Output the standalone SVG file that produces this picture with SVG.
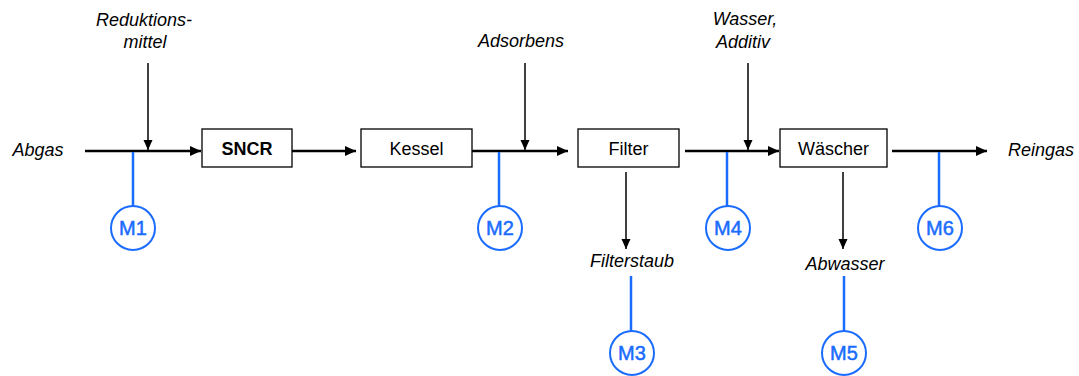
<svg xmlns="http://www.w3.org/2000/svg" width="1079" height="376" viewBox="0 0 1079 376">
<style>
.box{fill:#fff;stroke:#000;stroke-width:1.3}
.lbl{font-family:"Liberation Sans",Arial,sans-serif;font-size:18px;fill:#000;text-anchor:middle}
.it{font-family:"Liberation Sans",Arial,sans-serif;font-size:18px;font-style:italic;fill:#000;text-anchor:middle}
.main{stroke:#000;stroke-width:2.5;fill:none}
.thin{stroke:#000;stroke-width:1.5;fill:none}
.mline{stroke:#1a6cff;stroke-width:2.5;fill:none}
.mc{fill:#fff;stroke:#1a6cff;stroke-width:2}
.mt{font-family:"Liberation Sans",Arial,sans-serif;font-size:20px;fill:#1a6cff;stroke:#1a6cff;stroke-width:0.5;text-anchor:middle}
</style>
<defs>
<marker id="ah" markerUnits="userSpaceOnUse" markerWidth="12" markerHeight="12" viewBox="0 0 12 12" refX="11" refY="6" orient="auto">
<path d="M0,1 L11,6 L0,11 Z" fill="#000"/>
</marker>
<marker id="ahs" markerUnits="userSpaceOnUse" markerWidth="12" markerHeight="12" viewBox="0 0 12 12" refX="11" refY="6" orient="auto">
<path d="M1,1.5 L11,6 L1,10.5 Z" fill="#000"/>
</marker>
</defs>
<g id="connectors">
<line class="main" x1="85" y1="151" x2="201" y2="151" marker-end="url(#ah)"/>
<line class="main" x1="292" y1="151" x2="356" y2="151" marker-end="url(#ah)"/>
<line class="main" x1="472" y1="151" x2="568" y2="151" marker-end="url(#ah)"/>
<line class="main" x1="685" y1="151" x2="779" y2="151" marker-end="url(#ah)"/>
<line class="main" x1="892" y1="151" x2="987" y2="151" marker-end="url(#ah)"/>
<line class="thin" x1="148" y1="63" x2="148" y2="150" marker-end="url(#ahs)"/>
<line class="thin" x1="525" y1="63" x2="525" y2="150" marker-end="url(#ahs)"/>
<line class="thin" x1="748" y1="63" x2="748" y2="150" marker-end="url(#ahs)"/>
<line class="thin" x1="626" y1="172" x2="626" y2="249" marker-end="url(#ahs)"/>
<line class="thin" x1="843" y1="172" x2="843" y2="249" marker-end="url(#ahs)"/>
<line class="mline" x1="133" y1="152" x2="133" y2="206"/>
<line class="mline" x1="499" y1="152" x2="499" y2="206"/>
<line class="mline" x1="727" y1="152" x2="727" y2="206"/>
<line class="mline" x1="939" y1="152" x2="939" y2="206"/>
<line class="mline" x1="631" y1="276" x2="631" y2="331"/>
<line class="mline" x1="844" y1="276" x2="844" y2="331"/>
</g>
<g id="Abgas"><text class="it" x="38" y="156">Abgas</text></g>
<g id="Reduktionsmittel"><text class="it" x="144" y="26">Reduktions-</text><text class="it" x="145" y="48">mittel</text></g>
<g id="Adsorbens"><text class="it" x="521" y="47">Adsorbens</text></g>
<g id="WasserAdditiv"><text class="it" x="745" y="25">Wasser,</text><text class="it" x="743" y="48">Additiv</text></g>
<g id="Reingas"><text class="it" x="1041" y="156">Reingas</text></g>
<g id="Filterstaub"><text class="it" x="632" y="267">Filterstaub</text></g>
<g id="Abwasser"><text class="it" x="845" y="270">Abwasser</text></g>
<g id="SNCR"><rect class="box" x="202" y="129" width="90" height="38"/><text class="lbl" x="247" y="155" font-weight="bold">SNCR</text></g>
<g id="Kessel"><rect class="box" x="361" y="129" width="111" height="38"/><text class="lbl" x="416.5" y="155">Kessel</text></g>
<g id="Filter"><rect class="box" x="578" y="129" width="101" height="38"/><text class="lbl" x="628.5" y="155">Filter</text></g>
<g id="Waescher"><rect class="box" x="780" y="129" width="107" height="38"/><text class="lbl" x="833.5" y="155">Wäscher</text></g>
<g id="M1"><circle class="mc" cx="133" cy="228" r="22"/><text class="mt" x="133" y="235">M1</text></g>
<g id="M2"><circle class="mc" cx="500" cy="228" r="22"/><text class="mt" x="500" y="235">M2</text></g>
<g id="M3"><circle class="mc" cx="632" cy="353" r="22"/><text class="mt" x="632" y="360">M3</text></g>
<g id="M4"><circle class="mc" cx="728" cy="228" r="22"/><text class="mt" x="728" y="235">M4</text></g>
<g id="M5"><circle class="mc" cx="844" cy="353" r="22"/><text class="mt" x="844" y="360">M5</text></g>
<g id="M6"><circle class="mc" cx="940" cy="228" r="22"/><text class="mt" x="940" y="235">M6</text></g>
</svg>
